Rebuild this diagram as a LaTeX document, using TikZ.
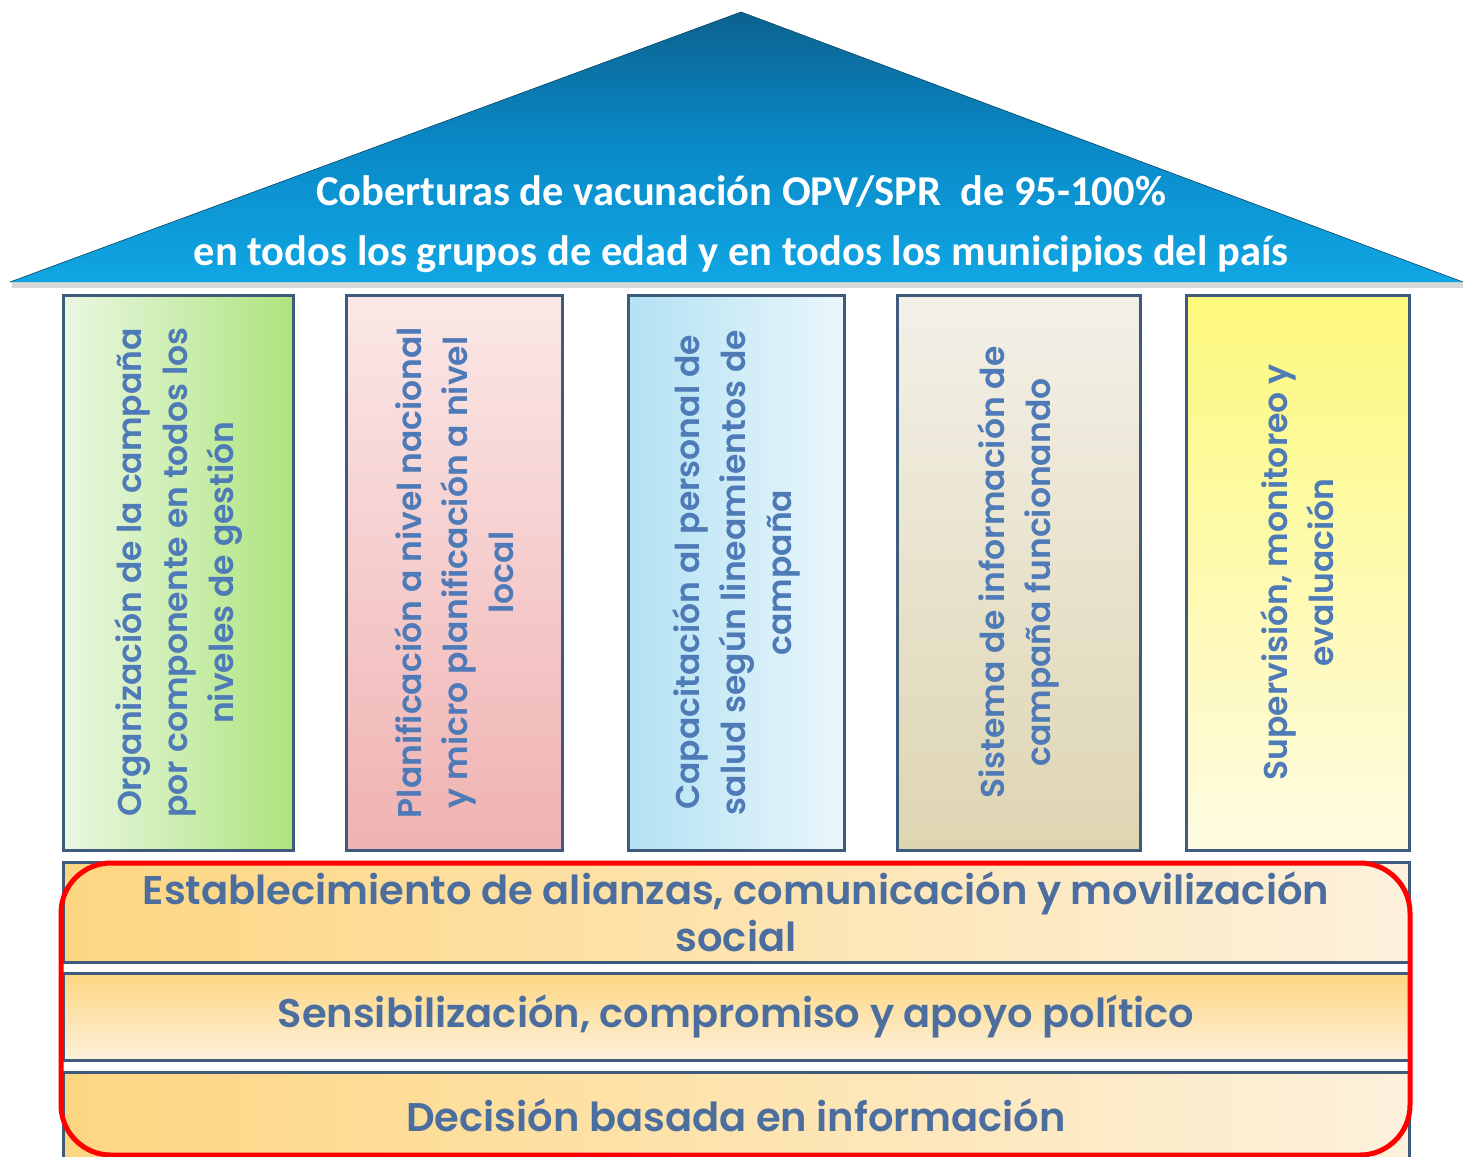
\documentclass[tikz,border=0pt]{standalone}
\usepackage{fontspec}
\setmainfont{Carlito}
\newfontfamily\gothicfont{Poppins SemiBold}
\definecolor{roofdark}{HTML}{0B628F}
\definecolor{roofmid}{HTML}{0A8AC8}
\definecolor{roofbright}{HTML}{10A6E4}
\definecolor{edge}{HTML}{3E5A7C}
\definecolor{ptext}{HTML}{4E7BB7}
\definecolor{btext}{HTML}{4C6E9F}
\definecolor{bandorange}{HTML}{FDD681}
\definecolor{bandpale}{HTML}{FDF1DC}
\definecolor{gA}{HTML}{EAF7E2}
\definecolor{gB}{HTML}{AEE47E}
\definecolor{pA}{HTML}{FBE7E7}
\definecolor{pB}{HTML}{F0B2B2}
\definecolor{cA}{HTML}{B3E1F3}
\definecolor{cB}{HTML}{EAF7FC}
\definecolor{tA}{HTML}{F3F0E8}
\definecolor{tB}{HTML}{DED5B2}
\definecolor{yA}{HTML}{FDF97C}
\definecolor{yB}{HTML}{FEFBE2}
\tikzset{
  pillar/.style={draw=edge, line width=3pt, rectangle, inner sep=0pt},
  band/.style={draw=edge, line width=3pt, rectangle, inner sep=0pt, minimum width=1346pt},
  pilltxt/.style={rotate=90, align=center, text=ptext, inner sep=0pt,
     font=\gothicfont\fontsize{33}{46}\selectfont},
  bandtxt/.style={align=center, text=btext, inner sep=0pt,
     font=\gothicfont\fontsize{40}{47}\selectfont},
}
\begin{document}
\begin{tikzpicture}[x=1pt,y=-1pt]
\useasboundingbox (0,0) rectangle (1463,1156);
\clip (0,0) rectangle (1463,1156);
\fill[white] (0,0) rectangle (1463,1156);
% roof
\coordinate (apex) at (741,12);
\coordinate (rl) at (10,282);
\coordinate (rr) at (1463,282);
\fill[black!25, opacity=0.6] (12,282) rectangle (1463,288);
\shade[top color=roofdark, bottom color=roofbright, middle color=roofmid] (apex) -- (rr) -- (rl) -- cycle;
\draw[roofdark!70!black, line width=0.6pt] (rl) -- (apex) -- (rr);
\node[text=white, align=center, font=\bfseries\fontsize{42.5}{60}\selectfont, inner sep=0pt] (rooftxt) at (741,224)
  {Coberturas de vacunación OPV/SPR\ \ de 95-100\%\\en todos los grupos de edad y en todos los municipios del país};
% pillars
\node[pillar, left color=gA, right color=gB, minimum width=230pt, minimum height=555pt] (p1) at (178,572.5) {};
\node[pillar, top color=pA, bottom color=pB, minimum width=216pt, minimum height=555pt] (p2) at (454,572.5) {};
\node[pillar, left color=cA, right color=cB, minimum width=216pt, minimum height=555pt] (p3) at (736,572.5) {};
\node[pillar, top color=tA, bottom color=tB, minimum width=243pt, minimum height=555pt] (p4) at (1018.5,572.5) {};
\node[pillar, top color=yA, bottom color=yB, minimum width=223pt, minimum height=555pt] (p5) at (1297.5,572.5) {};
\node[pilltxt] (t1) at (p1.center) {Organización de la campaña\\por componente en todos los\\niveles de gestión};
\node[pilltxt] (t2) at (p2.center) {Planificación a nivel nacional\\y micro planificación a nivel\\local};
\node[pilltxt] (t3) at (p3.center) {Capacitación al personal de\\salud según lineamientos de\\campaña};
\node[pilltxt] (t4) at (p4.center) {Sistema de información de\\campaña funcionando};
\node[pilltxt] (t5) at (p5.center) {Supervisión, monitoreo y\\evaluación};
% bands
\node[band, left color=bandorange, right color=bandpale, minimum height=100pt] (b1) at (736,912) {};
\node[band, top color=bandorange, bottom color=bandpale, minimum height=87pt] (b2) at (736,1016.5) {};
\node[band, left color=bandorange, right color=bandpale, minimum height=90pt] (b3) at (736,1117) {};
\node[bandtxt] (bt1) at (b1.center) {Establecimiento de alianzas, comunicación y movilización\\social};
\node[bandtxt] (bt2) at (b2.center) {Sensibilización, compromiso y apoyo político};
\node[bandtxt] (bt3) at (736,1115) {Decisión basada en información};
% red highlight
\draw[red, line width=5pt, rounded corners=50pt] (61,863) rectangle (1410,1155);
\end{tikzpicture}
\end{document}
